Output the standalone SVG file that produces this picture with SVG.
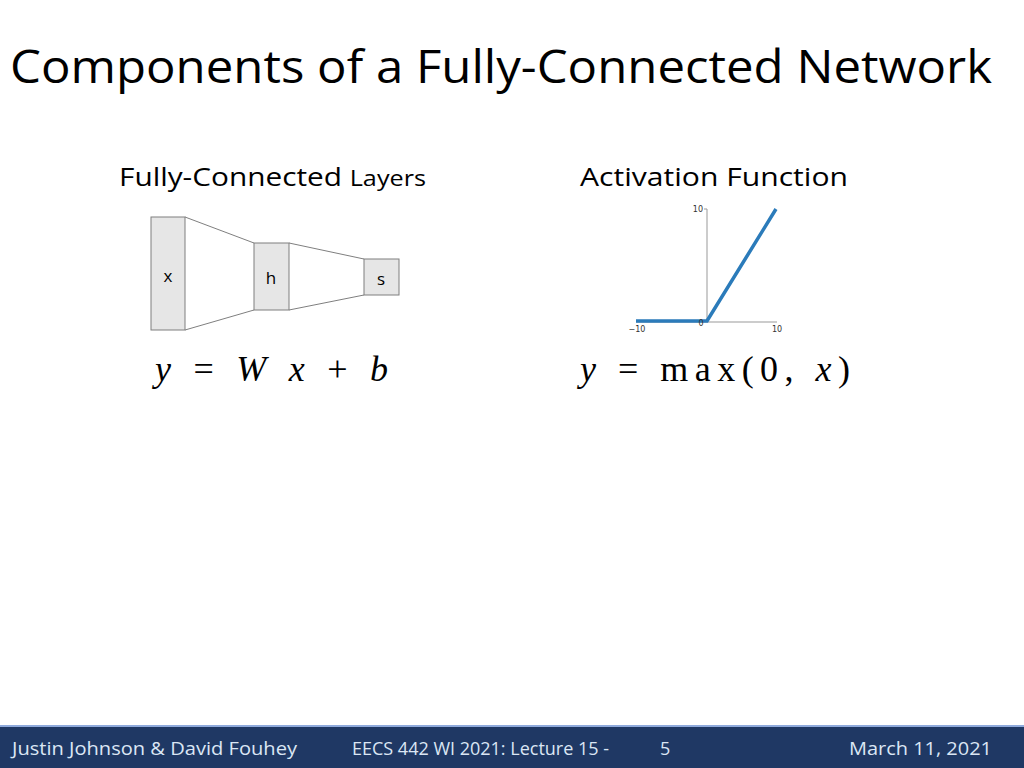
<svg xmlns="http://www.w3.org/2000/svg" width="1024" height="768" viewBox="0 0 1024 768">
<style>
.t{font-family:"Open Sans","Liberation Sans",sans-serif;fill:#000}
.box{fill:#e6e6e6;stroke:#7f7f7f;stroke-width:1}
.ln{stroke:#7f7f7f;stroke-width:1;fill:none}
.m{font-family:"Liberation Serif",serif;font-size:36px;fill:#000}
.ax{font-family:"DejaVu Sans",sans-serif;font-size:8px;fill:#333}
.f{font-family:"Open Sans","Liberation Sans",sans-serif;font-size:18px;fill:#dbe6f4}
</style>
<rect width="1024" height="768" fill="#fff"/>
<text class="t" x="10" y="83" font-size="46" textLength="982" lengthAdjust="spacingAndGlyphs">Components of a Fully-Connected Network</text>
<text class="t" x="119" y="186" font-size="26" textLength="307" lengthAdjust="spacingAndGlyphs">Fully-Connected <tspan font-size="22">Layers</tspan></text>
<text class="t" x="580" y="186" font-size="26" textLength="268" lengthAdjust="spacingAndGlyphs">Activation Function</text>
<g id="connectors">
<path class="ln" d="M185,217 L254,243 M185,330 L254,310 M289,243 L364,259 M289,310 L364,295"/>
</g>
<g id="x"><rect class="box" x="151" y="217" width="34" height="113"/><text class="t" x="168" y="282" font-size="17" text-anchor="middle">x</text></g>
<g id="h"><rect class="box" x="254" y="243" width="35" height="67"/><text class="t" x="271" y="284" font-size="17" text-anchor="middle">h</text></g>
<g id="s"><rect class="box" x="364" y="259" width="35" height="36"/><text class="t" x="381" y="285" font-size="17" text-anchor="middle">s</text></g>
<text class="m" x="155" y="381" font-style="italic" textLength="233" lengthAdjust="spacing">y <tspan font-style="normal">=</tspan> W x <tspan font-style="normal">+</tspan> b</text>
<g id="plot">
<path d="M707,209 V322 M636,322 H777 M704,209 H707" stroke="#999" stroke-width="1" fill="none"/>
<polyline points="636,321 707,321 776,209" stroke="#2b7bba" stroke-width="3.5" fill="none"/>
<text class="ax" x="703" y="212" text-anchor="end">10</text>
<text class="ax" x="701" y="326" text-anchor="middle">0</text>
<text class="ax" x="637" y="332" text-anchor="middle">−10</text>
<text class="ax" x="777" y="332" text-anchor="middle">10</text>
</g>
<text class="m" x="580" y="381" textLength="270" lengthAdjust="spacing"><tspan font-style="italic">y</tspan> = max(0, <tspan font-style="italic">x</tspan>)</text>
<rect x="0" y="726" width="1024" height="42" fill="#1f3864"/>
<rect x="0" y="725" width="1024" height="2" fill="#8faadc"/>
<text class="f" x="12" y="755" textLength="285" lengthAdjust="spacingAndGlyphs">Justin Johnson &amp; David Fouhey</text>
<text class="f" x="352" y="755" textLength="257" lengthAdjust="spacingAndGlyphs">EECS 442 WI 2021: Lecture 15 -</text>
<text class="f" x="660" y="755">5</text>
<text class="f" x="992" y="755" text-anchor="end" textLength="143" lengthAdjust="spacingAndGlyphs">March 11, 2021</text>
</svg>
